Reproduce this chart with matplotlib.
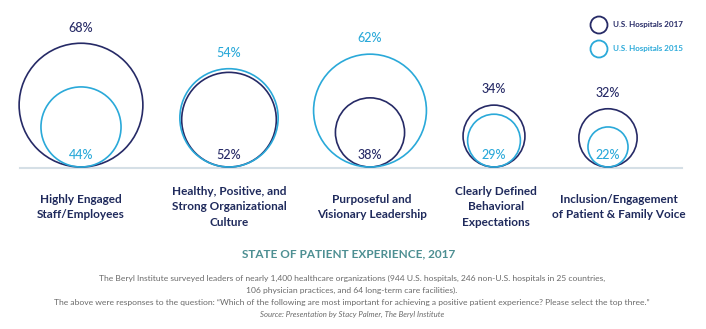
import matplotlib.pyplot as plt
from matplotlib.patches import Circle

# DATA
categorias = ['Highly Engaged\nStaff/Employees',
              'Healthy, Positive, and\nStrong Organizational\nCulture',
              'Purposeful and\nVisionary Leadership',
              'Clearly Defined\nBehavioral\nExpectations',
              'Inclusion/Engagement\nof Patient & Family Voice']
hospitales2017 = [68, 52, 38, 34, 32]
hospitales2015 = [44, 54, 62, 29, 22]
serie_labels = ['U.S. Hospitals 2017', 'U.S. Hospitals 2015']

# layout (pixels)
centros_x = [81, 229, 370, 494, 608]
label_x = [81, 229, 372, 496, 619]
base_y = 167
escala = 0.91  # radius in px per percentage point

navy = '#262a66'
azul = '#2aa9d9'
gris = '#6a6a6a'
teal = '#4d8f92'

plt.rcParams['font.family'] = ['Lato', 'DejaVu Sans']

fig = plt.figure(figsize=(7.06, 3.29), dpi=100)
ax = fig.add_axes([0, 0, 1, 1])
ax.set_xlim(0, 706)
ax.set_ylim(329, 0)
ax.axis('off')

# baseline
ax.plot([20, 682], [base_y + 1, base_y + 1], color='#d5dfe6', lw=1.5, zorder=0)

for cx, v17, v15 in zip(centros_x, hospitales2017, hospitales2015):
    for v, col in ((v17, navy), (v15, azul)):
        r = v * escala
        ax.add_patch(Circle((cx, base_y - r), r, fill=False, ec=col, lw=1.2))
    # big value above the top, small value inside near the bottom
    if v17 >= v15:
        grande, gcol, chico, ccol = v17, navy, v15, azul
    else:
        grande, gcol, chico, ccol = v15, azul, v17, navy
    ax.annotate(f'{grande}%', (cx, base_y - 2 * grande * escala), xytext=(0, 7),
                textcoords='offset points', ha='center', va='bottom',
                color=gcol, fontsize=9, fontweight='medium')
    ax.text(cx, base_y - 12, f'{chico}%', ha='center', va='center',
            color=ccol, fontsize=9, fontweight='medium')

for lx, cat in zip(label_x, categorias):
    ax.text(lx, 207, cat, ha='center', va='center', color='#1f2a5c',
            fontsize=8.5, linespacing=1.45, fontweight='bold')

# legend
for i, (lab, col) in enumerate(zip(serie_labels, [navy, azul])):
    ly = 25 + 24 * i
    ax.add_patch(Circle((599, ly), 8.5, fill=False, ec=col, lw=1.3))
    ax.text(613, ly, lab, ha='left', va='center', color=col, fontsize=5.8,
            fontweight='bold')

ax.text(349, 254, 'STATE OF PATIENT EXPERIENCE, 2017', ha='center', va='center',
        color=teal, fontsize=8.5, fontweight='bold')

notas = ['The Beryl Institute surveyed leaders of nearly 1,400 healthcare organizations (944 U.S. hospitals, 246 non-U.S. hospitals in 25 countries,',
         '106 physician practices, and 64 long-term care facilities).',
         'The above were responses to the question: \u201cWhich of the following are most important for achieving a positive patient experience? Please select the top three.\u201d']
for i, n in enumerate(notas):
    ax.text(352, 278 + 12 * i, n, ha='center', va='center', color=gris,
            fontsize=6.1)
ax.text(352, 314, 'Source: Presentation by Stacy Palmer, The Beryl Institute',
        ha='center', va='center', color=gris, fontsize=5.6, style='italic')

fig.savefig('out.png', dpi=100, facecolor='white')
